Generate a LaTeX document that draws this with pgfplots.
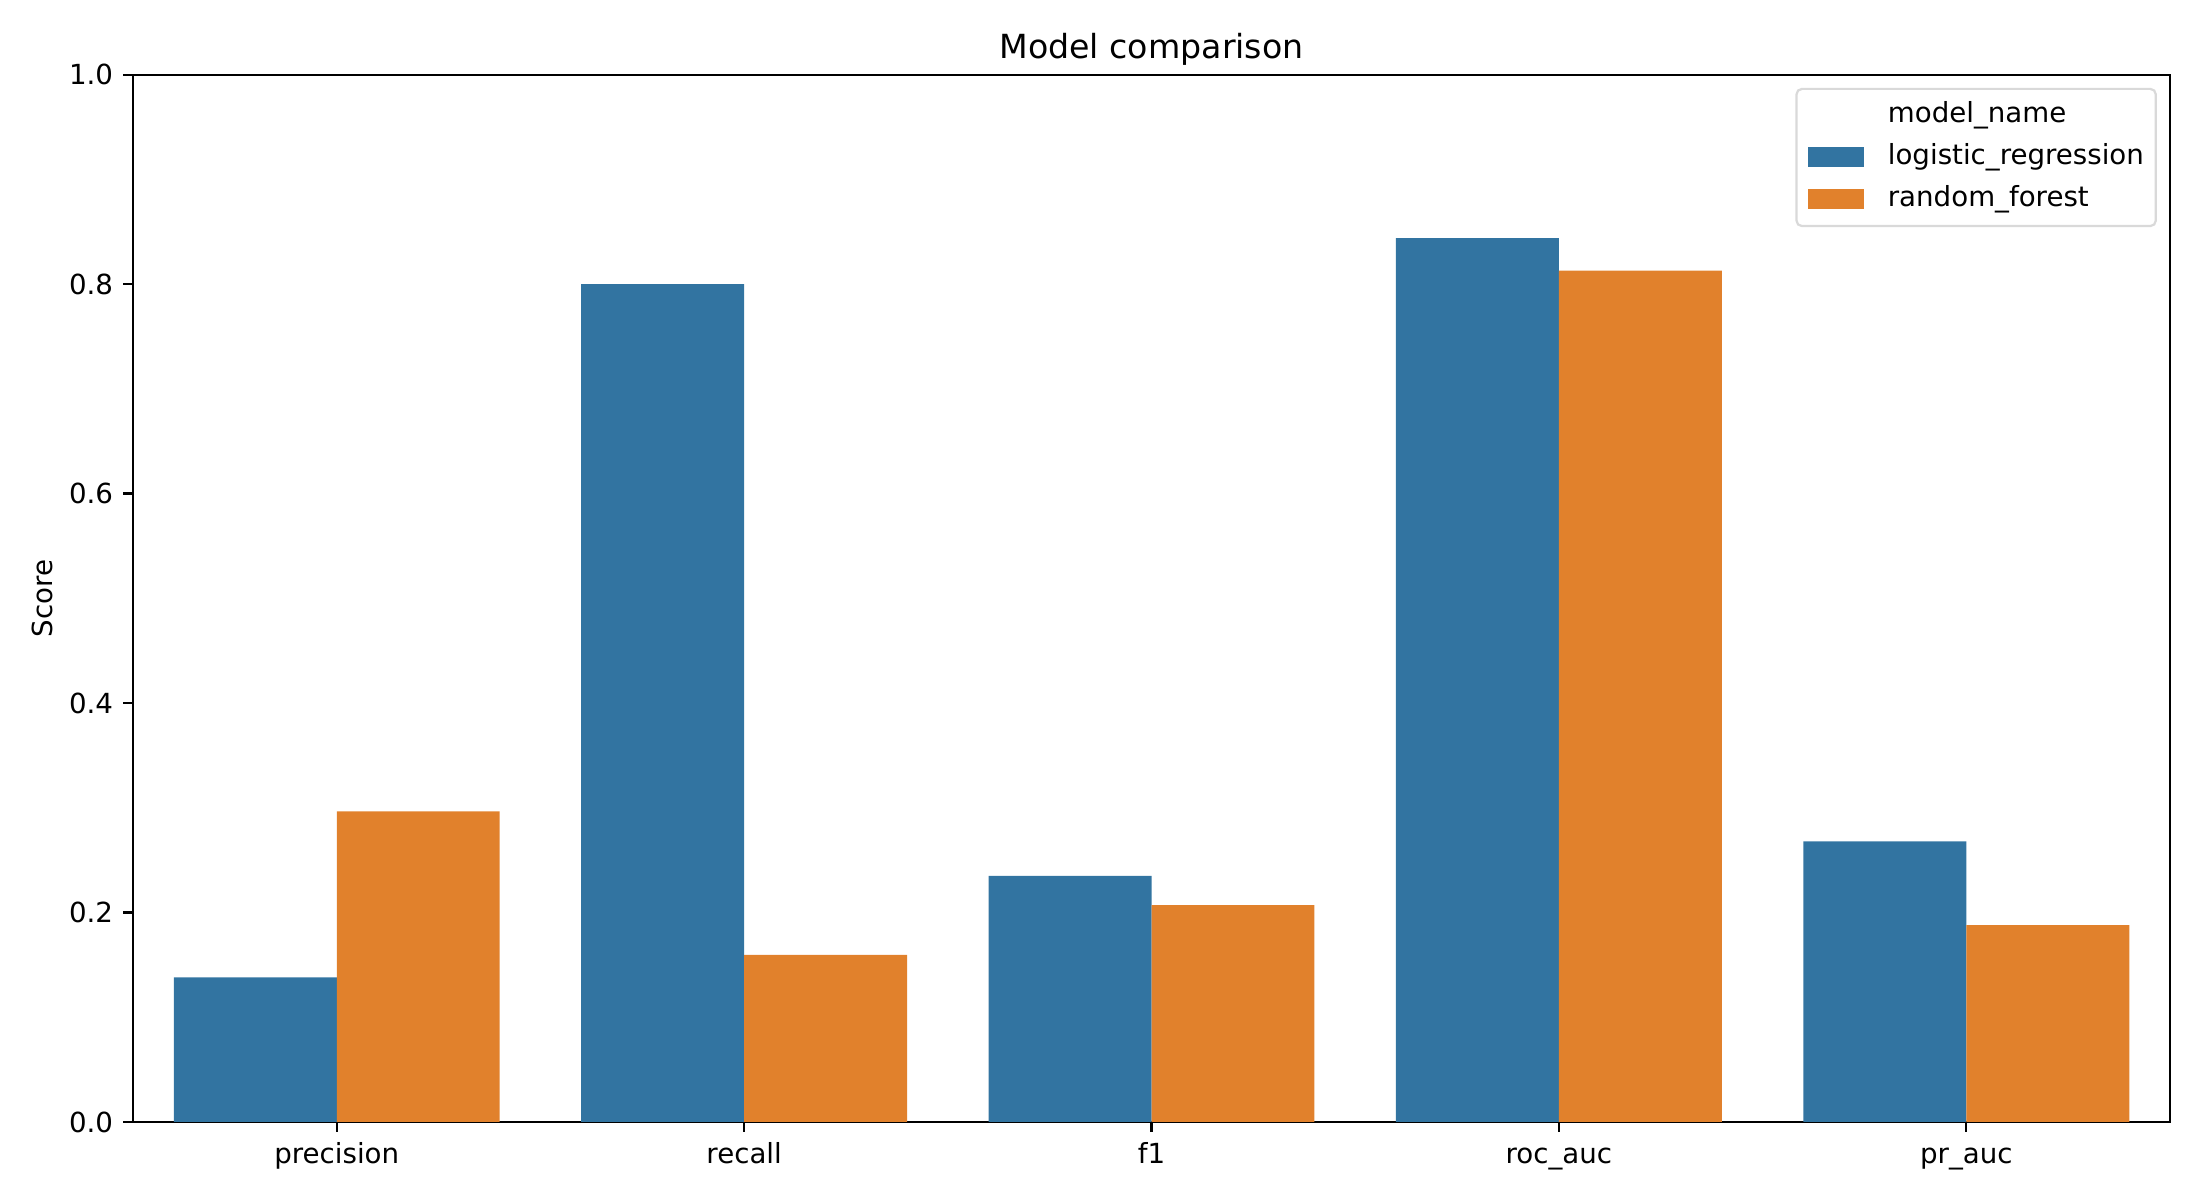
\documentclass[border=0pt]{standalone}
\usepackage{pgfplots}
\pgfplotsset{compat=1.18}
\usepackage{fontspec}
\setmainfont{DejaVu Sans}
\definecolor{sbblue}{RGB}{50,116,161}
\definecolor{sborange}{RGB}{225,129,44}
\definecolor{legframe}{RGB}{217,217,217}
\begin{document}
\begin{tikzpicture}
\path[use as bounding box] (-47.9bp,-28.1bp) rectangle (744.1bp,403.9bp);
\begin{axis}[
  at={(0,0)}, anchor=south west,
  scale only axis,
  width=733.3bp, height=377bp,
  xmin=-0.5, xmax=4.5, ymin=0, ymax=1,
  xtick={0,1,2,3,4},
  xticklabels={precision,recall,f1,roc\_auc,pr\_auc},
  ytick={0,0.2,0.4,0.6,0.8,1.0},
  /pgf/number format/assume math mode=true,
  tick pos=left,
  tick align=outside,
  major tick length=3.5bp,
  tick style={black, line width=0.8bp},
  axis line style={black, line width=0.8bp},
  font=\fontsize{10}{12}\selectfont,
  xticklabel style={anchor=base, inner sep=0pt, yshift=-11.3bp},
  yticklabel style={anchor=east, inner sep=0pt, xshift=-3.5bp, /pgf/number format/.cd, fixed, fixed zerofill, precision=1},
  ylabel={Score},
  every axis y label/.style={at={(axis description cs:-0.0445,0.5)}, rotate=90, anchor=center},
  title={Model comparison},
  every axis title/.style={at={(axis description cs:0.5,1)}, anchor=base, yshift=6bp, font=\fontsize{12}{14}\selectfont},
  legend style={
    at={(axis description cs:1,1)}, anchor=north east,
    xshift=-4.7bp, yshift=-4.7bp,
    draw=legframe, line width=0.8bp, rounded corners=2bp,
    inner xsep=4.3bp, inner ysep=4.6bp,
    row sep=5.1bp,
    nodes={inner sep=0pt, text height=7.5bp, text depth=2.5bp, anchor=west},
    font=\fontsize{10}{12}\selectfont,
    /tikz/every odd column/.style={column sep=8.6bp},
  },
  legend cell align=left,
  legend image code/.code={\path[#1, draw=none, sharp corners] (0bp,-3.6bp) rectangle (20bp,3.6bp);},
]
\addlegendimage{empty legend}
\addlegendentry{model\_name}
\addplot[ybar, bar width=0.4, bar shift=-0.2, fill=sbblue, draw=none]
  coordinates {(0,0.138) (1,0.800) (2,0.235) (3,0.844) (4,0.268)};
\addlegendentry{logistic\_regression}
\addplot[ybar, bar width=0.4, bar shift=0.2, fill=sborange, draw=none]
  coordinates {(0,0.2965) (1,0.1595) (2,0.207) (3,0.813) (4,0.188)};
\addlegendentry{random\_forest}
\end{axis}
\end{tikzpicture}
\end{document}
